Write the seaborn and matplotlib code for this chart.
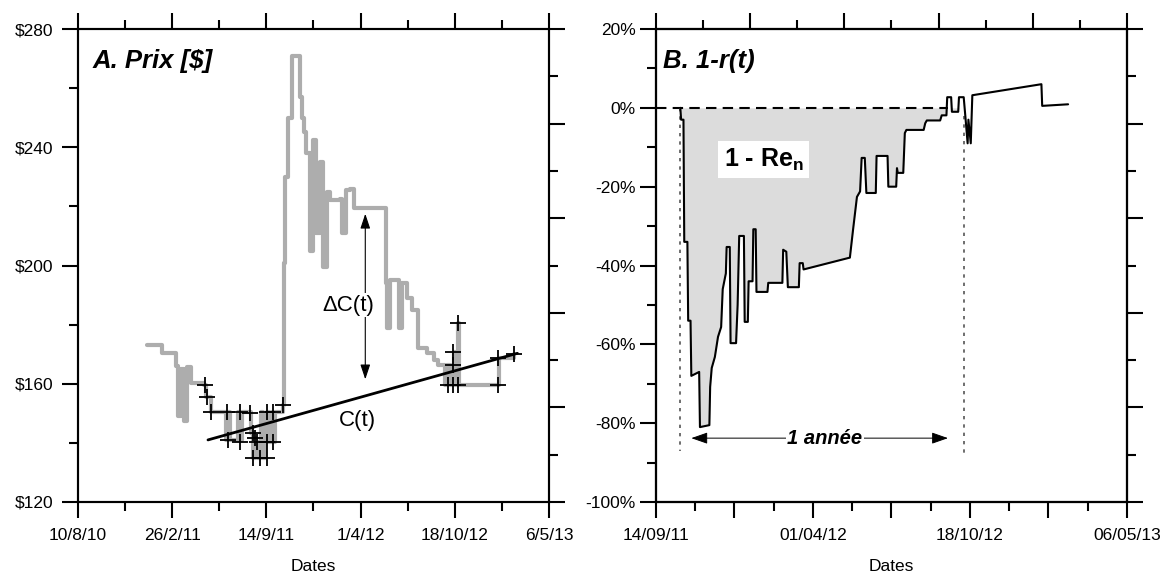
import pandas as pd
import matplotlib.pyplot as plt
import seaborn as sns
import numpy as np

# --- A. price series (step line), trades and linear cost C(t) ---
price_dates = [
    '2011-01-04', '2011-02-05', '2011-03-06', '2011-03-11', '2011-03-17', '2011-03-23',
    '2011-03-30', '2011-04-07', '2011-05-05', '2011-05-09', '2011-05-20', '2011-06-20',
    '2011-06-24', '2011-06-28', '2011-07-16', '2011-07-19', '2011-07-24', '2011-08-12',
    '2011-08-17', '2011-08-20', '2011-08-24', '2011-08-28', '2011-09-02', '2011-09-06',
    '2011-09-12', '2011-09-16', '2011-09-20', '2011-09-25', '2011-09-29', '2011-10-03',
    '2011-10-20', '2011-10-22', '2011-10-24', '2011-10-30', '2011-11-08', '2011-11-25',
    '2011-11-29', '2011-12-03', '2011-12-08', '2011-12-16', '2011-12-23', '2011-12-29',
    '2012-01-06', '2012-01-13', '2012-01-21', '2012-01-28', '2012-02-18', '2012-02-22',
    '2012-02-29', '2012-03-10', '2012-03-17', '2012-05-24', '2012-05-28', '2012-06-03',
    '2012-06-22', '2012-06-29', '2012-07-09', '2012-07-20', '2012-07-31', '2012-08-21',
    '2012-09-03', '2012-09-13', '2012-09-28', '2012-10-02', '2012-10-07', '2012-10-15',
    '2012-10-17', '2012-10-19', '2012-10-24', '2012-10-26', '2013-01-17', '2013-01-19',
    '2013-02-20',
]
price_values = [
    173.0, 170.5, 166.0, 149.0, 165.0, 147.5,
    165.5, 160.3, 159.6, 155.5, 150.4, 141.0,
    150.4, 141.0, 150.4, 141.0, 150.4, 143.3,
    135.0, 141.6, 140.3, 135.0, 150.4, 135.0,
    140.3, 150.4, 140.3, 150.4, 140.3, 150.4,
    152.8, 201.0, 230.0, 250.0, 271.0, 257.0,
    250.0, 245.0, 238.0, 205.0, 242.5, 211.0,
    235.0, 199.5, 225.0, 222.0, 222.5, 211.0,
    225.5, 226.0, 219.5, 194.0, 179.0, 195.0,
    179.0, 194.0, 189.0, 185.0, 172.0, 170.4,
    168.2, 166.3, 159.6, 166.3, 159.6, 166.3,
    170.7, 159.6, 180.6, 159.6, 159.6, 168.7,
    170.0,
]

trade_dates = [
    '2011-05-07', '2011-05-11', '2011-05-20', '2011-06-23', '2011-06-25', '2011-07-20',
    '2011-07-20', '2011-08-10', '2011-08-17', '2011-08-17', '2011-08-21', '2011-08-25',
    '2011-09-01', '2011-09-16', '2011-09-16', '2011-09-16', '2011-09-29', '2011-09-29',
    '2011-10-20', '2012-10-04', '2012-10-15', '2012-10-15', '2012-10-15', '2012-10-24',
    '2012-10-24', '2013-01-17', '2013-01-17', '2013-02-20',
]
trade_prices = [
    159.6, 155.5, 150.4, 150.4, 141.0, 150.4,
    140.3, 150.0, 143.3, 135.0, 141.6, 140.3,
    135.0, 135.0, 140.3, 150.4, 140.3, 150.4,
    152.8, 159.6, 159.6, 166.3, 170.7, 159.6,
    180.6, 159.6, 168.7, 170.0,
]

cost_dates = ['2011-05-13', '2013-02-28']
cost_values = [141.0, 170.3]

a_xticklabels = ['10/8/10', '26/2/11', '14/9/11', '1/4/12', '18/10/12', '6/5/13']
a_yticks = [120, 160, 200, 240, 280]
a_yticklabels = ['$120', '$160', '$200', '$240', '$280']

# --- B. 1 - r(t) ---
dd_dates = [
    '2011-10-15', '2011-10-16', '2011-10-19', '2011-10-20', '2011-10-24', '2011-10-25',
    '2011-10-28', '2011-10-29', '2011-11-08', '2011-11-09', '2011-11-21', '2011-11-22',
    '2011-11-24', '2011-11-28', '2011-12-02', '2011-12-06', '2011-12-08', '2011-12-12',
    '2011-12-13', '2011-12-17', '2011-12-18', '2011-12-25', '2011-12-27', '2011-12-29',
    '2012-01-04', '2012-01-05', '2012-01-09', '2012-01-10', '2012-01-15', '2012-01-16',
    '2012-01-19', '2012-01-20', '2012-02-03', '2012-02-04', '2012-02-22', '2012-02-23',
    '2012-02-27', '2012-02-29', '2012-03-14', '2012-03-15', '2012-03-19', '2012-03-20',
    '2012-05-18', '2012-05-22', '2012-05-27', '2012-05-31', '2012-06-02', '2012-06-06',
    '2012-06-08', '2012-06-20', '2012-06-21', '2012-07-05', '2012-07-06', '2012-07-16',
    '2012-07-17', '2012-07-18', '2012-07-25', '2012-07-27', '2012-07-29', '2012-08-20',
    '2012-08-22', '2012-08-24', '2012-09-10', '2012-09-12', '2012-09-18', '2012-09-19',
    '2012-09-24', '2012-09-25', '2012-10-03', '2012-10-04', '2012-10-10', '2012-10-12',
    '2012-10-15', '2012-10-16', '2012-10-19', '2012-10-21', '2013-01-17', '2013-01-18',
    '2013-02-20',
]
dd_values = [
    0.0, -3.0, -3.0, -34.0, -34.0, -54.0,
    -54.0, -68.0, -67.0, -81.0, -80.5, -70.8,
    -66.0, -63.2, -58.1, -55.6, -46.0, -42.0,
    -35.3, -35.3, -59.7, -59.7, -50.0, -32.5,
    -32.5, -54.3, -54.3, -44.0, -44.0, -30.8,
    -30.8, -46.7, -46.7, -44.4, -44.4, -36.0,
    -36.5, -45.5, -45.5, -39.4, -39.4, -41.0,
    -38.0, -31.0, -22.6, -21.2, -12.7, -12.7,
    -21.6, -21.6, -12.2, -12.2, -20.0, -20.0,
    -15.3, -16.5, -16.5, -6.4, -5.6, -5.6,
    -3.9, -3.2, -3.2, -1.9, -1.9, 2.7,
    2.7, -1.0, -1.0, 2.7, 2.7, -1.9,
    -9.0, -3.0, -9.0, 3.2, 6.0, 0.5,
    0.9,
]

b_xticklabels = ['14/09/11', '', '01/04/12', '', '18/10/12', '', '06/05/13']
b_yticks = [-100, -80, -60, -40, -20, 0, 20]
b_yticklabels = ['-100%', '-80%', '-60%', '-40%', '-20%', '0%', '20%']

# --- styling ---
sns.set_theme(style='ticks')
plt.rcParams['font.family'] = ['Liberation Sans', 'DejaVu Sans']
plt.rcParams['text.color'] = 'black'
plt.rcParams['axes.labelcolor'] = 'black'
plt.rcParams['mathtext.fontset'] = 'custom'
plt.rcParams['mathtext.rm'] = 'Liberation Sans'
plt.rcParams['mathtext.bf'] = 'Liberation Sans:bold'


def style_axis(ax):
    ax.tick_params(which='major', direction='out', length=11.5, width=1.5,
                   color='black', labelsize=12.5, labelcolor='black')
    ax.tick_params(which='minor', direction='out', length=6.5, width=1.5, color='black')
    for sp in ax.spines.values():
        sp.set_visible(True)
        sp.set_linewidth(1.5)
        sp.set_color('black')


def add_right_ticks(ax):
    # right-hand frame carries its own regular 10-step graduation
    tw = ax.twinx()
    tw.set_ylim(0, 10)
    tw.set_yticks([0, 2, 4, 6, 8, 10])
    tw.set_yticks([1, 3, 5, 7, 9], minor=True)
    style_axis(tw)
    tw.tick_params(labelright=False)
    tw.grid(False)
    return tw


fig = plt.figure(figsize=(11.71, 5.78), dpi=100)
axA = fig.add_axes([0.0666, 0.1315, 0.4022, 0.8183])
axB = fig.add_axes([0.5602, 0.1315, 0.4022, 0.8183])

# ---------------- Panel A ----------------
price_df = pd.DataFrame({'date': pd.to_datetime(price_dates), 'price': price_values})
trade_df = pd.DataFrame({'date': pd.to_datetime(trade_dates), 'price': trade_prices})
cost_df = pd.DataFrame({'date': pd.to_datetime(cost_dates), 'price': cost_values})

sns.lineplot(data=price_df, x='date', y='price', ax=axA, color='#adadad', lw=3,
             drawstyle='steps-post', estimator=None, sort=False)
sns.lineplot(data=cost_df, x='date', y='price', ax=axA, color='black', lw=2, zorder=3)
sns.scatterplot(data=trade_df, x='date', y='price', ax=axA, marker='+', s=120,
                color='black', linewidth=1.3, zorder=4)

a_start, a_end = pd.Timestamp('2010-08-10'), pd.Timestamp('2013-05-06')
axA.set_xlim(a_start, a_end)
axA.set_ylim(120, 280)
axA.set_xticks(pd.date_range(a_start, periods=6, freq='200D'))
axA.set_xticklabels(a_xticklabels)
axA.set_xticks(pd.date_range(a_start, periods=11, freq='100D'), minor=True)
axA.set_yticks(a_yticks)
axA.set_yticklabels(a_yticklabels)
axA.set_yticks([140, 180, 220, 260], minor=True)
style_axis(axA)
axA.tick_params(axis='x', which='both', top=True, labeltop=False, pad=7)
axA.tick_params(axis='y', pad=6)
axA.set_xlabel('Dates', fontsize=12.5, labelpad=12)
axA.set_ylabel('')
add_right_ticks(axA)

axA.text(0.03, 0.918, 'A. Prix [$]', transform=axA.transAxes, fontsize=18.5,
         fontweight='bold', fontstyle='italic', va='baseline')

arrow_x = pd.Timestamp('2012-04-11')
axA.annotate('', xy=(arrow_x, 217.5), xytext=(arrow_x, 161.5),
             arrowprops=dict(arrowstyle='<|-|>,head_length=0.9,head_width=0.3',
                             mutation_scale=10, color='black', lw=0.8,
                             shrinkA=0, shrinkB=0))
axA.text(pd.Timestamp('2012-03-06'), 186.6, '\u0394C(t)', fontsize=16, ha='center',
         va='center', bbox=dict(facecolor='white', edgecolor='none', pad=1))
axA.text(pd.Timestamp('2012-03-25'), 147.7, 'C(t)', fontsize=16, ha='center', va='center')

# ---------------- Panel B ----------------
dd_df = pd.DataFrame({'date': pd.to_datetime(dd_dates), 'value': dd_values})
fill_end = pd.Timestamp('2012-10-10')
mask = dd_df['date'] <= fill_end
axB.fill_between(dd_df['date'][mask], np.minimum(dd_df['value'][mask], 0), 0,
                 color='#dcdcdc', lw=0, zorder=1)
sns.lineplot(data=dd_df, x='date', y='value', ax=axB, color='black', lw=1.5,
             estimator=None, sort=False, zorder=3)

b_start, b_end = pd.Timestamp('2011-09-14'), pd.Timestamp('2013-05-06')
axB.plot([b_start, pd.Timestamp('2012-09-20')], [0, 0], color='black', lw=1.5,
         ls=(0, (5, 3)), zorder=2)
axB.plot([pd.Timestamp('2011-10-15')] * 2, [0, -87], color='#555555', lw=1.2,
         ls=(0, (2, 3)), zorder=2)
axB.plot([fill_end] * 2, [-2, -87.5], color='#555555', lw=1.2, ls=(0, (2, 3)), zorder=2)

axB.annotate('', xy=(pd.Timestamp('2011-10-29'), -83.8), xytext=(pd.Timestamp('2012-09-20'), -83.8),
             arrowprops=dict(arrowstyle='<|-|>,head_length=1.0,head_width=0.35',
                             mutation_scale=10, color='black', lw=0.7,
                             shrinkA=0, shrinkB=0))
axB.text(pd.Timestamp('2012-04-16'), -83.8, '1 année', fontsize=14.5, fontweight='bold',
         fontstyle='italic', ha='center', va='center',
         bbox=dict(facecolor='white', edgecolor='none', pad=1))
axB.text(pd.Timestamp('2012-01-29'), -13.2, r'1 - Re$_{\mathbf{n}}$', fontsize=18,
         fontweight='bold', ha='center', va='center',
         bbox=dict(facecolor='white', edgecolor='none', pad=4))

axB.set_xlim(b_start, b_end)
axB.set_ylim(-100, 20)
axB.set_xticks(pd.date_range(b_start, periods=7, freq='100D'))
axB.set_xticklabels(b_xticklabels)
axB.set_xticks(pd.date_range(b_start, periods=13, freq='50D'), minor=True)
axB.set_yticks(b_yticks)
axB.set_yticklabels(b_yticklabels)
axB.set_yticks(np.arange(-90, 20, 20), minor=True)
style_axis(axB)
axB.tick_params(axis='x', pad=7)
axB.tick_params(axis='y', pad=3)
axB.set_xlabel('Dates', fontsize=12.5, labelpad=12)
axB.set_ylabel('')
add_right_ticks(axB)

# top frame of B: regular 10-step graduation
top = axB.twiny()
top.set_xlim(0, 10)
top.set_xticks([0, 2, 4, 6, 8, 10])
top.set_xticks([1, 3, 5, 7, 9], minor=True)
style_axis(top)
top.tick_params(labeltop=False)

axB.text(0.015, 0.918, 'B. 1-r(t)', transform=axB.transAxes, fontsize=18.5,
         fontweight='bold', fontstyle='italic', va='baseline')

fig.savefig('out.png', dpi=100, facecolor='white')
